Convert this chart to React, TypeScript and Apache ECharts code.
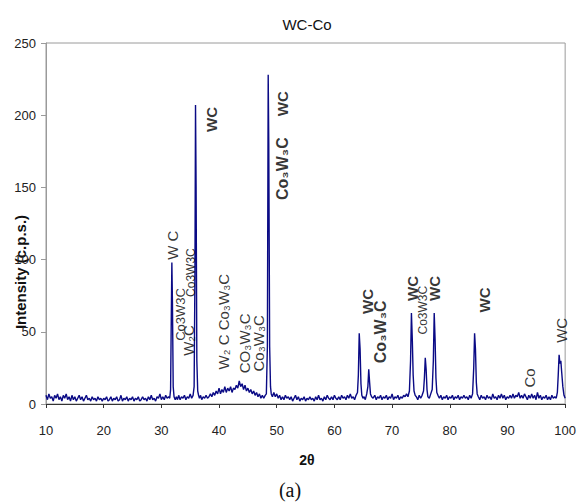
import React, { useEffect, useRef } from "react";
import * as echarts from "echarts";

// XRD pattern: [2θ, intensity (c.p.s.)]
const pattern: [number, number][] = [
  [10.0, 6], [10.25, 3], [10.5, 7], [10.75, 4], [11.0, 5], [11.25, 2], [11.5, 6], [11.75, 4],
  [12.0, 7], [12.25, 3], [12.5, 5], [12.75, 2], [13.0, 6], [13.25, 4], [13.5, 7], [13.75, 3],
  [14.0, 5], [14.25, 2], [14.5, 6], [14.75, 3], [15.0, 5], [15.25, 2], [15.5, 4], [15.75, 6],
  [16.0, 3], [16.25, 5], [16.5, 2], [16.75, 4], [17.0, 6], [17.25, 3], [17.5, 4], [17.75, 2],
  [18.0, 5], [18.25, 3], [18.5, 4], [18.75, 2], [19.0, 5], [19.25, 3], [19.5, 4], [19.75, 2],
  [20.0, 4], [20.25, 3], [20.5, 5], [20.75, 2], [21.0, 3], [21.25, 5], [21.5, 2], [21.75, 4],
  [22.0, 3], [22.25, 5], [22.5, 2], [22.75, 3], [23.0, 6], [23.25, 2], [23.5, 4], [23.75, 3],
  [24.0, 5], [24.25, 2], [24.5, 4], [24.75, 3], [25.0, 5], [25.25, 2], [25.5, 4], [25.75, 3],
  [26.0, 5], [26.25, 2], [26.5, 3], [26.75, 5], [27.0, 3], [27.25, 4], [27.5, 2], [27.75, 5],
  [28.0, 3], [28.25, 6], [28.5, 3], [28.75, 4], [29.0, 2], [29.25, 5], [29.5, 4], [29.75, 7],
  [30.0, 3], [30.25, 5], [30.5, 3], [30.75, 6], [31.0, 4], [31.25, 5], [31.45, 4],
  [31.6, 10], [31.72, 60], [31.82, 98], [31.92, 70], [32.05, 12], [32.2, 5],
  [32.4, 3], [32.6, 5], [32.8, 3], [33.0, 6], [33.25, 3], [33.5, 5], [33.75, 4], [34.0, 6],
  [34.25, 3], [34.5, 5], [34.75, 4], [35.0, 7], [35.25, 4], [35.5, 6],
  [35.68, 12], [35.82, 90], [35.92, 207], [36.02, 150], [36.15, 30], [36.3, 9], [36.45, 6],
  [36.6, 4], [36.8, 6], [37.0, 3], [37.25, 5], [37.5, 4], [37.75, 6], [38.0, 4], [38.25, 5],
  [38.5, 7], [38.75, 5], [39.0, 8], [39.25, 6], [39.5, 9], [39.75, 7], [40.0, 11], [40.25, 7],
  [40.5, 10], [40.75, 8], [41.0, 12], [41.25, 8], [41.5, 11], [41.75, 9], [42.0, 12], [42.25, 8],
  [42.5, 11], [42.75, 10], [43.0, 13], [43.25, 11], [43.5, 16], [43.75, 12], [44.0, 14], [44.25, 10],
  [44.5, 13], [44.75, 9], [45.0, 11], [45.25, 8], [45.5, 10], [45.75, 7], [46.0, 9], [46.25, 6],
  [46.5, 8], [46.75, 5], [47.0, 7], [47.25, 4], [47.5, 6], [47.75, 4], [48.0, 6], [48.2, 7],
  [48.38, 40], [48.52, 228], [48.62, 180], [48.77, 40], [48.92, 12], [49.05, 7],
  [49.25, 5], [49.5, 8], [49.75, 5], [50.0, 7], [50.25, 4], [50.5, 6], [50.75, 3], [51.0, 5],
  [51.25, 3], [51.5, 6], [51.75, 4], [52.0, 5], [52.25, 3], [52.5, 5], [52.75, 2], [53.0, 4],
  [53.25, 6], [53.5, 3], [53.75, 5], [54.0, 2], [54.25, 4], [54.5, 3], [54.75, 5], [55.0, 2],
  [55.25, 4], [55.5, 3], [55.75, 5], [56.0, 3], [56.25, 4], [56.5, 2], [56.75, 5], [57.0, 3],
  [57.25, 6], [57.5, 3], [57.75, 4], [58.0, 2], [58.25, 5], [58.5, 3], [58.75, 6], [59.0, 4],
  [59.25, 3], [59.5, 5], [59.75, 3], [60.0, 6], [60.25, 4], [60.5, 3], [60.75, 5], [61.0, 3],
  [61.25, 6], [61.5, 4], [61.75, 5], [62.0, 3], [62.25, 6], [62.5, 4], [62.75, 7], [63.0, 4],
  [63.25, 5], [63.5, 3], [63.75, 6], [64.0, 8],
  [64.15, 20], [64.3, 49], [64.45, 38], [64.6, 14], [64.75, 6],
  [64.95, 4], [65.15, 5], [65.35, 3], [65.6, 7], [65.8, 12], [65.95, 24], [66.1, 15], [66.25, 7],
  [66.45, 5], [66.7, 4], [67.0, 6], [67.25, 3], [67.5, 5], [67.75, 4], [68.0, 6], [68.25, 3],
  [68.5, 5], [68.75, 4], [69.0, 6], [69.25, 3], [69.5, 5], [69.75, 4], [70.0, 7], [70.25, 3],
  [70.5, 5], [70.75, 4], [71.0, 6], [71.25, 3], [71.5, 5], [71.75, 4], [72.0, 6], [72.25, 5],
  [72.5, 7], [72.75, 5], [73.0, 9],
  [73.2, 30], [73.35, 63], [73.5, 45], [73.65, 20], [73.8, 9], [74.0, 6],
  [74.2, 5], [74.45, 3], [74.7, 6], [74.95, 4], [75.2, 6], [75.45, 9], [75.6, 18], [75.75, 32],
  [75.9, 24], [76.05, 10], [76.2, 5], [76.45, 4], [76.7, 7], [76.95, 10],
  [77.15, 30], [77.3, 63], [77.45, 45], [77.6, 18], [77.75, 8], [77.95, 6],
  [78.2, 4], [78.45, 6], [78.7, 3], [78.95, 5], [79.2, 4], [79.45, 6], [79.7, 3], [79.95, 5],
  [80.2, 4], [80.45, 6], [80.7, 3], [80.95, 5], [81.2, 4], [81.45, 6], [81.7, 3], [81.95, 5],
  [82.2, 4], [82.45, 6], [82.7, 4], [82.95, 5], [83.2, 3], [83.45, 6], [83.7, 4], [83.95, 7],
  [84.15, 25], [84.3, 49], [84.45, 38], [84.6, 15], [84.75, 7], [84.95, 5],
  [85.2, 3], [85.45, 6], [85.7, 4], [85.95, 5], [86.2, 3], [86.45, 6], [86.7, 4], [86.95, 5],
  [87.2, 3], [87.45, 7], [87.7, 4], [87.95, 5], [88.2, 3], [88.45, 6], [88.7, 4], [88.95, 7],
  [89.2, 4], [89.45, 6], [89.7, 3], [89.95, 5], [90.2, 4], [90.45, 6], [90.7, 4], [90.95, 7],
  [91.2, 4], [91.45, 6], [91.7, 5], [91.95, 8], [92.2, 4], [92.45, 6], [92.7, 4], [92.95, 7],
  [93.2, 5], [93.45, 3], [93.7, 6], [93.95, 4], [94.2, 7], [94.45, 4], [94.7, 6], [94.95, 3],
  [95.2, 8], [95.45, 4], [95.7, 6], [95.95, 3], [96.2, 5], [96.45, 4], [96.7, 6], [96.95, 3],
  [97.2, 5], [97.45, 3], [97.7, 6], [97.95, 4], [98.2, 5], [98.45, 4], [98.65, 8],
  [98.8, 20], [98.95, 34], [99.1, 28], [99.25, 30], [99.4, 22], [99.6, 12], [99.8, 6], [100.0, 4],
];

// Phase annotations (anchor in data coordinates)
const annX = [32.0, 35.1, 33.4, 34.7, 38.7, 51.0, 51.0, 40.8, 44.4, 46.9, 65.7, 68.0, 73.5, 75.4, 77.3, 86.0, 93.8, 99.3];
const annY = [110, 91, 62, 44, 197, 208, 163, 57, 42, 42, 71, 50, 80, 65, 80, 72, 18, 51];
const annText = [
  "W C", "Co3W3C", "Co3W3C", "W₂C", "WC", "WC", "Co₃W₃C", "W₂ C Co₃W₃C", "CO₃W₃C", "Co₃W₃C",
  "WC", "Co₃W₃C", "WC", "Co3W3C", "WC", "WC", "Co", "WC",
];
// style class for each annotation
const annKind = [
  "reg", "small", "mid", "reg", "bold", "bold", "boldsub", "reg", "reg", "reg",
  "bold", "boldsub", "bold", "small", "bold", "bold", "reg", "reg",
];

const kindStyle: Record<string, { fontSize: number; fontWeight: string }> = {
  reg: { fontSize: 15, fontWeight: "normal" },
  mid: { fontSize: 13, fontWeight: "normal" },
  small: { fontSize: 12, fontWeight: "normal" },
  bold: { fontSize: 15, fontWeight: "bold" },
  boldsub: { fontSize: 16, fontWeight: "bold" },
};

const FONT = "Liberation Sans, Arial, sans-serif";

export default function App() {
  const ref = useRef<HTMLDivElement>(null);
  useEffect(() => {
    document.body.style.margin = "0";
    if (!ref.current) return;
    const chart = echarts.init(ref.current, undefined, { renderer: "svg" });
    const annData = annX.map((x, i) => {
      const s = kindStyle[annKind[i]];
      return {
        value: [x, annY[i]],
        label: { formatter: annText[i], fontSize: s.fontSize, fontWeight: s.fontWeight },
      };
    });
    chart.setOption({
      animation: false,
      backgroundColor: "#ffffff",
      grid: {
        left: 46,
        right: 13,
        top: 43,
        bottom: 100,
        show: true,
        borderColor: "#9a9a9a",
        borderWidth: 1,
      },
      xAxis: {
        type: "value",
        min: 10,
        max: 100,
        interval: 10,
        axisLine: { show: true, lineStyle: { color: "#333333", width: 1 } },
        axisTick: { show: true, length: 4, lineStyle: { color: "#333333" } },
        axisLabel: { color: "#222222", fontSize: 13, margin: 20, fontFamily: FONT },
        splitLine: { show: false },
      },
      yAxis: {
        type: "value",
        min: 0,
        max: 250,
        interval: 50,
        axisLine: { show: true, lineStyle: { color: "#9a9a9a", width: 1 } },
        axisTick: { show: true, length: 5, lineStyle: { color: "#9a9a9a" } },
        axisLabel: { color: "#222222", fontSize: 13, margin: 10, fontFamily: FONT },
        splitLine: { show: false },
      },
      graphic: [
        {
          type: "text",
          x: 307,
          y: 24,
          style: { text: "WC-Co", fontSize: 15, fontFamily: FONT, fill: "#111111", align: "center", verticalAlign: "middle" },
        },
        {
          type: "text",
          x: 20,
          y: 272,
          rotation: Math.PI / 2,
          style: { text: "Intensity (c.p.s.)", fontSize: 15, fontWeight: "bold", fontFamily: FONT, fill: "#111111", align: "center", verticalAlign: "middle" },
        },
        {
          type: "text",
          x: 307,
          y: 460,
          style: { text: "2θ", fontSize: 14, fontWeight: "bold", fontFamily: FONT, fill: "#111111", align: "center", verticalAlign: "middle" },
        },
        {
          type: "text",
          x: 290,
          y: 490,
          style: { text: "(a)", fontSize: 20, fontFamily: "Liberation Serif, Times New Roman, serif", fill: "#111111", align: "center", verticalAlign: "middle" },
        },
      ],
      series: [
        {
          type: "line",
          data: pattern,
          showSymbol: false,
          symbol: "none",
          lineStyle: { color: "#0a0a85", width: 1.4 },
          z: 2,
        },
        {
          type: "scatter",
          data: annData,
          symbolSize: 1,
          itemStyle: { color: "rgba(0,0,0,0)" },
          silent: true,
          z: 3,
          label: {
            show: true,
            position: "inside",
            rotate: 90,
            color: "#000000",
            fontFamily: FONT,
            align: "center",
            verticalAlign: "middle",
          },
        },
      ],
    });
    return () => chart.dispose();
  }, []);
  return <div ref={ref} style={{ width: 579, height: 504 }} />;
}
